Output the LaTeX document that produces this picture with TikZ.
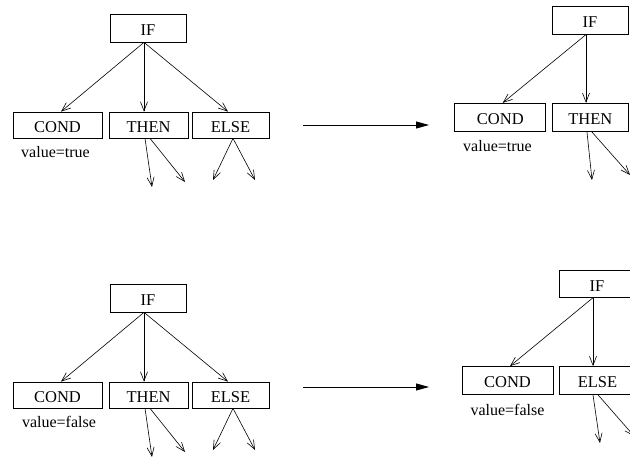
\documentclass[tikz,border=0pt]{standalone}
\usepackage{fontspec}
\setmainfont{Liberation Serif}
\usetikzlibrary{arrows.meta}
\tikzset{
  box/.style={draw, line width=0.7pt, inner sep=0pt, text height=15pt, text depth=0pt, font=\fontsize{16.5}{18}\selectfont},
  valtext/.style={anchor=base, inner sep=0pt, font=\fontsize{16}{18}\selectfont},
  child/.style={line width=0.6pt, -{Straight Barb[length=9pt,width=7pt,line width=0.6pt]}},
  bigarrow/.style={line width=0.9pt, -{Triangle[length=13pt,width=7pt]}}
}
\begin{document}
\begin{tikzpicture}[x=1pt,y=-1pt]
\useasboundingbox (0,0) rectangle (630,457);
\clip (0,0) rectangle (630,457);

% ---------- top left tree ----------
\node[box, minimum width=76pt, minimum height=28pt] (if1) at (148,28) {IF};
\node[box, minimum width=89pt, minimum height=26pt] (cond1) at (57.5,125) {COND};
\node[box, minimum width=79pt, minimum height=26pt] (then1) at (148.5,125) {THEN};
\node[box, minimum width=77pt, minimum height=26pt] (else1) at (230.5,125) {ELSE};
\node[valtext] (val1) at (55.5,158) {value=true};
\draw[child] ([xshift=-4pt]if1.south) -- ([xshift=3.5pt]cond1.north);
\draw[child] ([xshift=-4pt]if1.south) -- ([xshift=-4.5pt]then1.north);
\draw[child] ([xshift=-4pt]if1.south) -- ([xshift=-2.5pt]else1.north);
\coordinate (t1a) at (152,187);
\coordinate (t1b) at (185,182);
\coordinate (e1a) at (213,180);
\coordinate (e1b) at (255,180);
\draw[child] ([xshift=-3.5pt]then1.south) -- (t1a);
\draw[child] ([xshift=1.5pt]then1.south) -- (t1b);
\draw[child] ([xshift=2.5pt]else1.south) -- (e1a);
\draw[child] ([xshift=2.5pt]else1.south) -- (e1b);

% ---------- bottom left tree ----------
\node[box, minimum width=76pt, minimum height=28pt] (if2) at (148,298) {IF};
\node[box, minimum width=89pt, minimum height=26pt] (cond2) at (57.5,395) {COND};
\node[box, minimum width=79pt, minimum height=26pt] (then2) at (148.5,395) {THEN};
\node[box, minimum width=77pt, minimum height=26pt] (else2) at (230.5,395) {ELSE};
\node[valtext] (val2) at (59,428) {value=false};
\draw[child] ([xshift=-4pt]if2.south) -- ([xshift=3.5pt]cond2.north);
\draw[child] ([xshift=-4pt]if2.south) -- ([xshift=-4.5pt]then2.north);
\draw[child] ([xshift=-4pt]if2.south) -- ([xshift=-2.5pt]else2.north);
\coordinate (t2a) at (152,457);
\coordinate (t2b) at (185,452);
\coordinate (e2a) at (213,450);
\coordinate (e2b) at (255,450);
\draw[child] ([xshift=-3.5pt]then2.south) -- (t2a);
\draw[child] ([xshift=1.5pt]then2.south) -- (t2b);
\draw[child] ([xshift=2.5pt]else2.south) -- (e2a);
\draw[child] ([xshift=2.5pt]else2.south) -- (e2b);

% ---------- big arrows ----------
\coordinate (a1s) at (303,125);
\coordinate (a1e) at (429,125);
\coordinate (a2s) at (303,387);
\coordinate (a2e) at (429,387);
\draw[bigarrow] (a1s) -- (a1e);
\draw[bigarrow] (a2s) -- (a2e);

% ---------- top right tree ----------
\node[box, minimum width=76pt, minimum height=27.5pt] (if3) at (590,20.5) {IF};
\node[box, minimum width=91pt, minimum height=28.5pt] (cond3) at (500.3,117.5) {COND};
\node[box, minimum width=76pt, minimum height=28.5pt] (then3) at (590.3,117.5) {THEN};
\node[valtext] (val3) at (497.5,152) {value=true};
\draw[child] ([xshift=-4pt]if3.south) -- ([xshift=2.4pt]cond3.north);
\draw[child] ([xshift=-4pt]if3.south) -- ([xshift=-4.3pt]then3.north);
\coordinate (t3a) at (592,180);
\coordinate (t3b) at (630,175);
\draw[child] ([xshift=-3.3pt]then3.south) -- (t3a);
\draw[child] ([xshift=1.7pt]then3.south) -- (t3b);

% ---------- bottom right tree ----------
\node[box, minimum width=76pt, minimum height=27.3pt] (if4) at (597,283.7) {IF};
\node[box, minimum width=91pt, minimum height=28pt] (cond4) at (507.5,380.5) {COND};
\node[box, minimum width=76pt, minimum height=28pt] (else4) at (597.5,380.5) {ELSE};
\node[valtext] (val4) at (507.5,415) {value=false};
\draw[child] ([xshift=-4pt]if4.south) -- ([xshift=2.5pt]cond4.north);
\draw[child] ([xshift=-4pt]if4.south) -- ([xshift=-4.5pt]else4.north);
\coordinate (e4a) at (600,443);
\coordinate (e4b) at (634,436);
\draw[child] ([xshift=-4.5pt]else4.south) -- (e4a);
\draw[child] ([xshift=0.5pt]else4.south) -- (e4b);
\end{tikzpicture}
\end{document}
